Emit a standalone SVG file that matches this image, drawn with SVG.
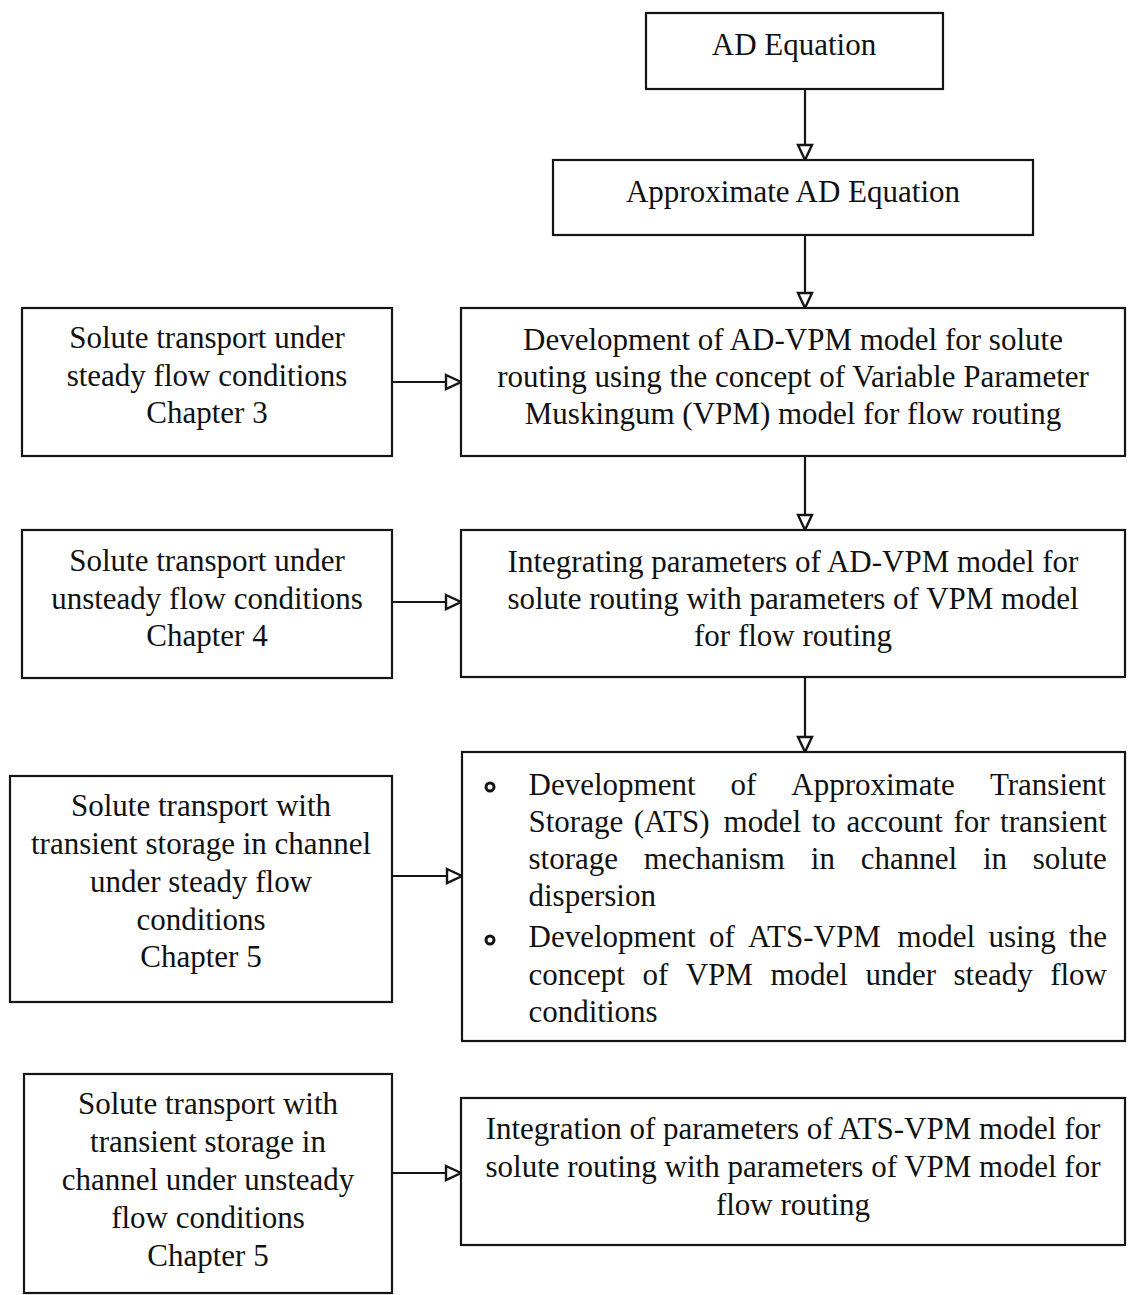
<svg xmlns="http://www.w3.org/2000/svg" width="1128" height="1295" viewBox="0 0 1128 1295">
<style>
.box{fill:#fff;stroke:#141414;stroke-width:2.2}
.t{font-family:"Liberation Serif","Times New Roman",serif;font-size:31px;fill:#111}
.c{text-anchor:middle}
.ln{stroke:#141414;stroke-width:2.2;fill:none}
.blt{fill:#fff;stroke:#141414;stroke-width:3}
</style>
<defs>
<marker id="ah" markerUnits="userSpaceOnUse" markerWidth="20" markerHeight="20" refX="16" refY="8" orient="auto" overflow="visible">
<path d="M1,1 L16,8 L1,15 Z" fill="#fff" stroke="#141414" stroke-width="2.4" stroke-linejoin="miter"/>
</marker>
</defs>
<rect width="1128" height="1295" fill="#fff"/>

<g id="connectors">
<line class="ln" x1="805" y1="89" x2="805" y2="160" marker-end="url(#ah)"/>
<line class="ln" x1="805" y1="235" x2="805" y2="308" marker-end="url(#ah)"/>
<line class="ln" x1="805" y1="456" x2="805" y2="530" marker-end="url(#ah)"/>
<line class="ln" x1="805" y1="677" x2="805" y2="752" marker-end="url(#ah)"/>
<line class="ln" x1="392" y1="382" x2="461" y2="382" marker-end="url(#ah)"/>
<line class="ln" x1="392" y1="602" x2="461" y2="602" marker-end="url(#ah)"/>
<line class="ln" x1="392" y1="876" x2="462" y2="876" marker-end="url(#ah)"/>
<line class="ln" x1="392" y1="1173" x2="461" y2="1173" marker-end="url(#ah)"/>
</g>

<g id="ad-equation">
<rect class="box" x="646" y="13" width="297" height="76"/>
<text class="t c" x="794" y="55">AD Equation</text>
</g>

<g id="approx-ad-equation">
<rect class="box" x="553" y="160" width="480" height="75"/>
<text class="t c" x="793" y="202">Approximate AD Equation</text>
</g>

<g id="ad-vpm-development">
<rect class="box" x="461" y="308" width="664" height="148"/>
<text class="t c" x="793" y="350">Development of AD-VPM model for solute</text>
<text class="t c" x="793" y="387">routing using the concept of Variable Parameter</text>
<text class="t c" x="793" y="424">Muskingum (VPM) model for flow routing</text>
</g>

<g id="steady-ch3">
<rect class="box" x="22" y="308" width="370" height="148"/>
<text class="t c" x="207" y="348">Solute transport under</text>
<text class="t c" x="207" y="386">steady flow conditions</text>
<text class="t c" x="207" y="423">Chapter 3</text>
</g>

<g id="integrating-ad-vpm">
<rect class="box" x="461" y="530" width="664" height="147"/>
<text class="t c" x="793" y="572">Integrating parameters of AD-VPM model for</text>
<text class="t c" x="793" y="609">solute routing with parameters of VPM model</text>
<text class="t c" x="793" y="646">for flow routing</text>
</g>

<g id="unsteady-ch4">
<rect class="box" x="22" y="530" width="370" height="148"/>
<text class="t c" x="207" y="571">Solute transport under</text>
<text class="t c" x="207" y="609">unsteady flow conditions</text>
<text class="t c" x="207" y="646">Chapter 4</text>
</g>

<g id="ats-development">
<rect class="box" x="462" y="752" width="663" height="289"/>
<circle class="blt" cx="490" cy="787" r="4"/>
<circle class="blt" cx="490" cy="940" r="4"/>
<text class="t" y="795"><tspan x="528.5">Development</tspan><tspan x="730.5">of</tspan><tspan x="791.3">Approximate</tspan><tspan x="989.9">Transient</tspan></text>
<text class="t" y="832"><tspan x="528.5">Storage</tspan><tspan x="633.8">(ATS)</tspan><tspan x="723.6">model</tspan><tspan x="811.7">to</tspan><tspan x="846.4">account</tspan><tspan x="953.4">for</tspan><tspan x="1000.1">transient</tspan></text>
<text class="t" y="869"><tspan x="528.5">storage</tspan><tspan x="643.8">mechanism</tspan><tspan x="810.8">in</tspan><tspan x="860.7">channel</tspan><tspan x="982.9">in</tspan><tspan x="1032.8">solute</tspan></text>
<text class="t" x="528.5" y="906">dispersion</text>
<text class="t" y="947"><tspan x="528.5">Development</tspan><tspan x="708.9">of</tspan><tspan x="748.1">ATS-VPM</tspan><tspan x="897.6">model</tspan><tspan x="988.5">using</tspan><tspan x="1069.1">the</tspan></text>
<text class="t" y="985"><tspan x="528.5">concept</tspan><tspan x="642.4">of</tspan><tspan x="685.7">VPM</tspan><tspan x="770.4">model</tspan><tspan x="865.4">under</tspan><tspan x="953.5">steady</tspan><tspan x="1050.2">flow</tspan></text>
<text class="t" x="528.5" y="1022">conditions</text>
</g>

<g id="transient-steady-ch5">
<rect class="box" x="10" y="776" width="382" height="226"/>
<text class="t c" x="201" y="816">Solute transport with</text>
<text class="t c" x="201" y="854">transient storage in channel</text>
<text class="t c" x="201" y="892">under steady flow</text>
<text class="t c" x="201" y="930">conditions</text>
<text class="t c" x="201" y="967">Chapter 5</text>
</g>

<g id="integration-ats-vpm">
<rect class="box" x="461" y="1098" width="664" height="147"/>
<text class="t c" x="793" y="1139">Integration of parameters of ATS-VPM model for</text>
<text class="t c" x="793" y="1177">solute routing with parameters of VPM model for</text>
<text class="t c" x="793" y="1215">flow routing</text>
</g>

<g id="transient-unsteady-ch5">
<rect class="box" x="24" y="1074" width="368" height="219"/>
<text class="t c" x="208" y="1114">Solute transport with</text>
<text class="t c" x="208" y="1152">transient storage in</text>
<text class="t c" x="208" y="1190">channel under unsteady</text>
<text class="t c" x="208" y="1228">flow conditions</text>
<text class="t c" x="208" y="1266">Chapter 5</text>
</g>
</svg>
